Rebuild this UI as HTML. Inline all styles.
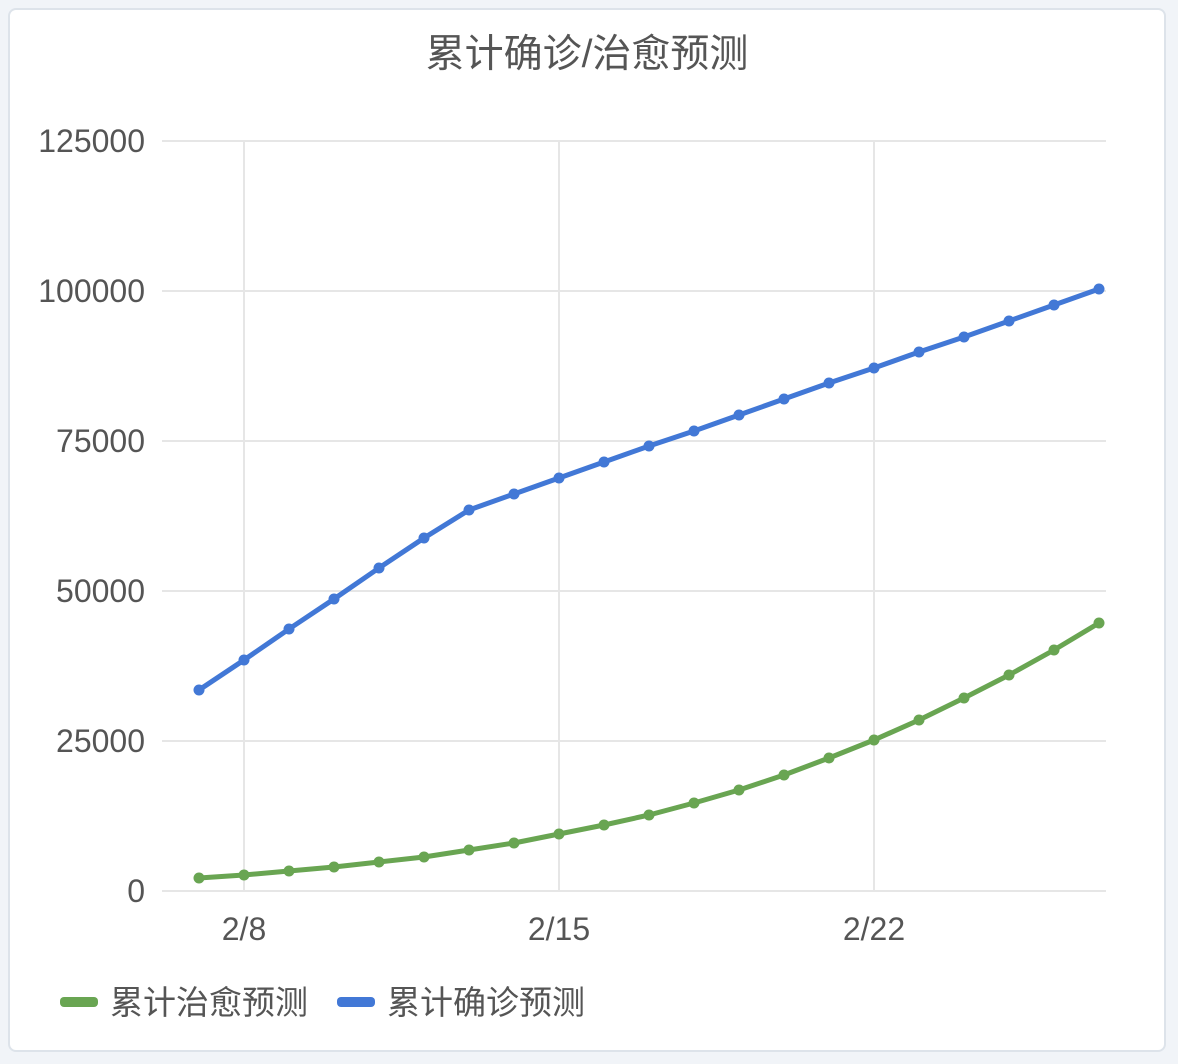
<!DOCTYPE html>
<html><head><meta charset="utf-8"><style>
body{margin:0;background:#f1f4f8;width:1178px;height:1064px;overflow:hidden;font-family:"Liberation Sans","Noto Sans CJK SC",sans-serif}
#card{position:absolute;left:8px;top:8px;width:1158px;height:1044px;background:#fff;border:2px solid #dde3ea;border-radius:8px;box-sizing:border-box}
</style></head><body>
<div id="card"></div>
<svg id="chart" width="1178" height="1064" style="position:absolute;left:0;top:0" font-family="Liberation Sans, Noto Sans CJK SC, sans-serif">
<text x="587" y="67" text-anchor="middle" font-size="39" fill="#555">累计确诊/治愈预测</text>
<g id="grid"></g><g id="series"></g>
<g>
<g><rect x="60" y="997" width="38" height="10" rx="4" fill="#69a552"/><text x="110" y="1014" font-size="33" fill="#555">累计治愈预测</text></g>
<g><rect x="337" y="997" width="38" height="10" rx="4" fill="#4278d6"/><text x="387" y="1014" font-size="33" fill="#555">累计确诊预测</text></g>
</g>
</svg>
<script>
const days=[7,8,9,10,11,12,13,14,15,16,17,18,19,20,21,22,23,24,25,26,27];
const confirmed=[33500,38500,43667,48667,53833,58833,63500,66167,68833,71500,74167,76667,79333,82000,84667,87167,89833,92333,95000,97667,100333];
const cured=[2167,2667,3333,4000,4833,5667,6833,8000,9500,11000,12667,14667,16833,19333,22167,25167,28500,32167,36000,40167,44667];
const yTicks=[0,25000,50000,75000,100000,125000];
const xTicks=[8,15,22];
const xTickLabels=["2/8","2/15","2/22"];
const ns="http://www.w3.org/2000/svg";
const X=d=>199+(d-7)*45, Y=v=>891-v*0.006;
const grid=document.getElementById('grid'), ser=document.getElementById('series');
function mk(tag,attrs,parent){const e=document.createElementNS(ns,tag);for(const k in attrs)e.setAttribute(k,attrs[k]);parent.appendChild(e);return e;}
yTicks.forEach(v=>{
  const l=mk('line',{x1:162,x2:1106,y1:Y(v),y2:Y(v),stroke:'#e6e6e6','stroke-width':2},grid);
  
  
  const t=mk('text',{x:145,y:Y(v)+11,'text-anchor':'end','font-size':32,fill:'#555'},grid);
  
  
  t.textContent=v;
});
xTicks.forEach((d,i)=>{
  const l=mk('line',{x1:X(d),x2:X(d),y1:141,y2:891,stroke:'#e6e6e6','stroke-width':2},grid);
  
  
  const t=mk('text',{x:X(d),y:940,'text-anchor':'middle','font-size':32,fill:'#555'},grid);
  
  
  t.textContent=xTickLabels[i];
});
function draw(vals,color,name){
  const p=mk('polyline',{points:vals.map((v,i)=>X(days[i])+','+Y(v)).join(' '),fill:'none',stroke:color,'stroke-width':5,'stroke-linejoin':'round'},ser);
  
  
  vals.forEach((v,i)=>{
    const c=mk('circle',{cx:X(days[i]),cy:Y(v),r:5.5,fill:color},ser);
    
    
  });
}
draw(cured,'#69a552','cured');
draw(confirmed,'#4278d6','confirmed');
</script>
</body></html>
